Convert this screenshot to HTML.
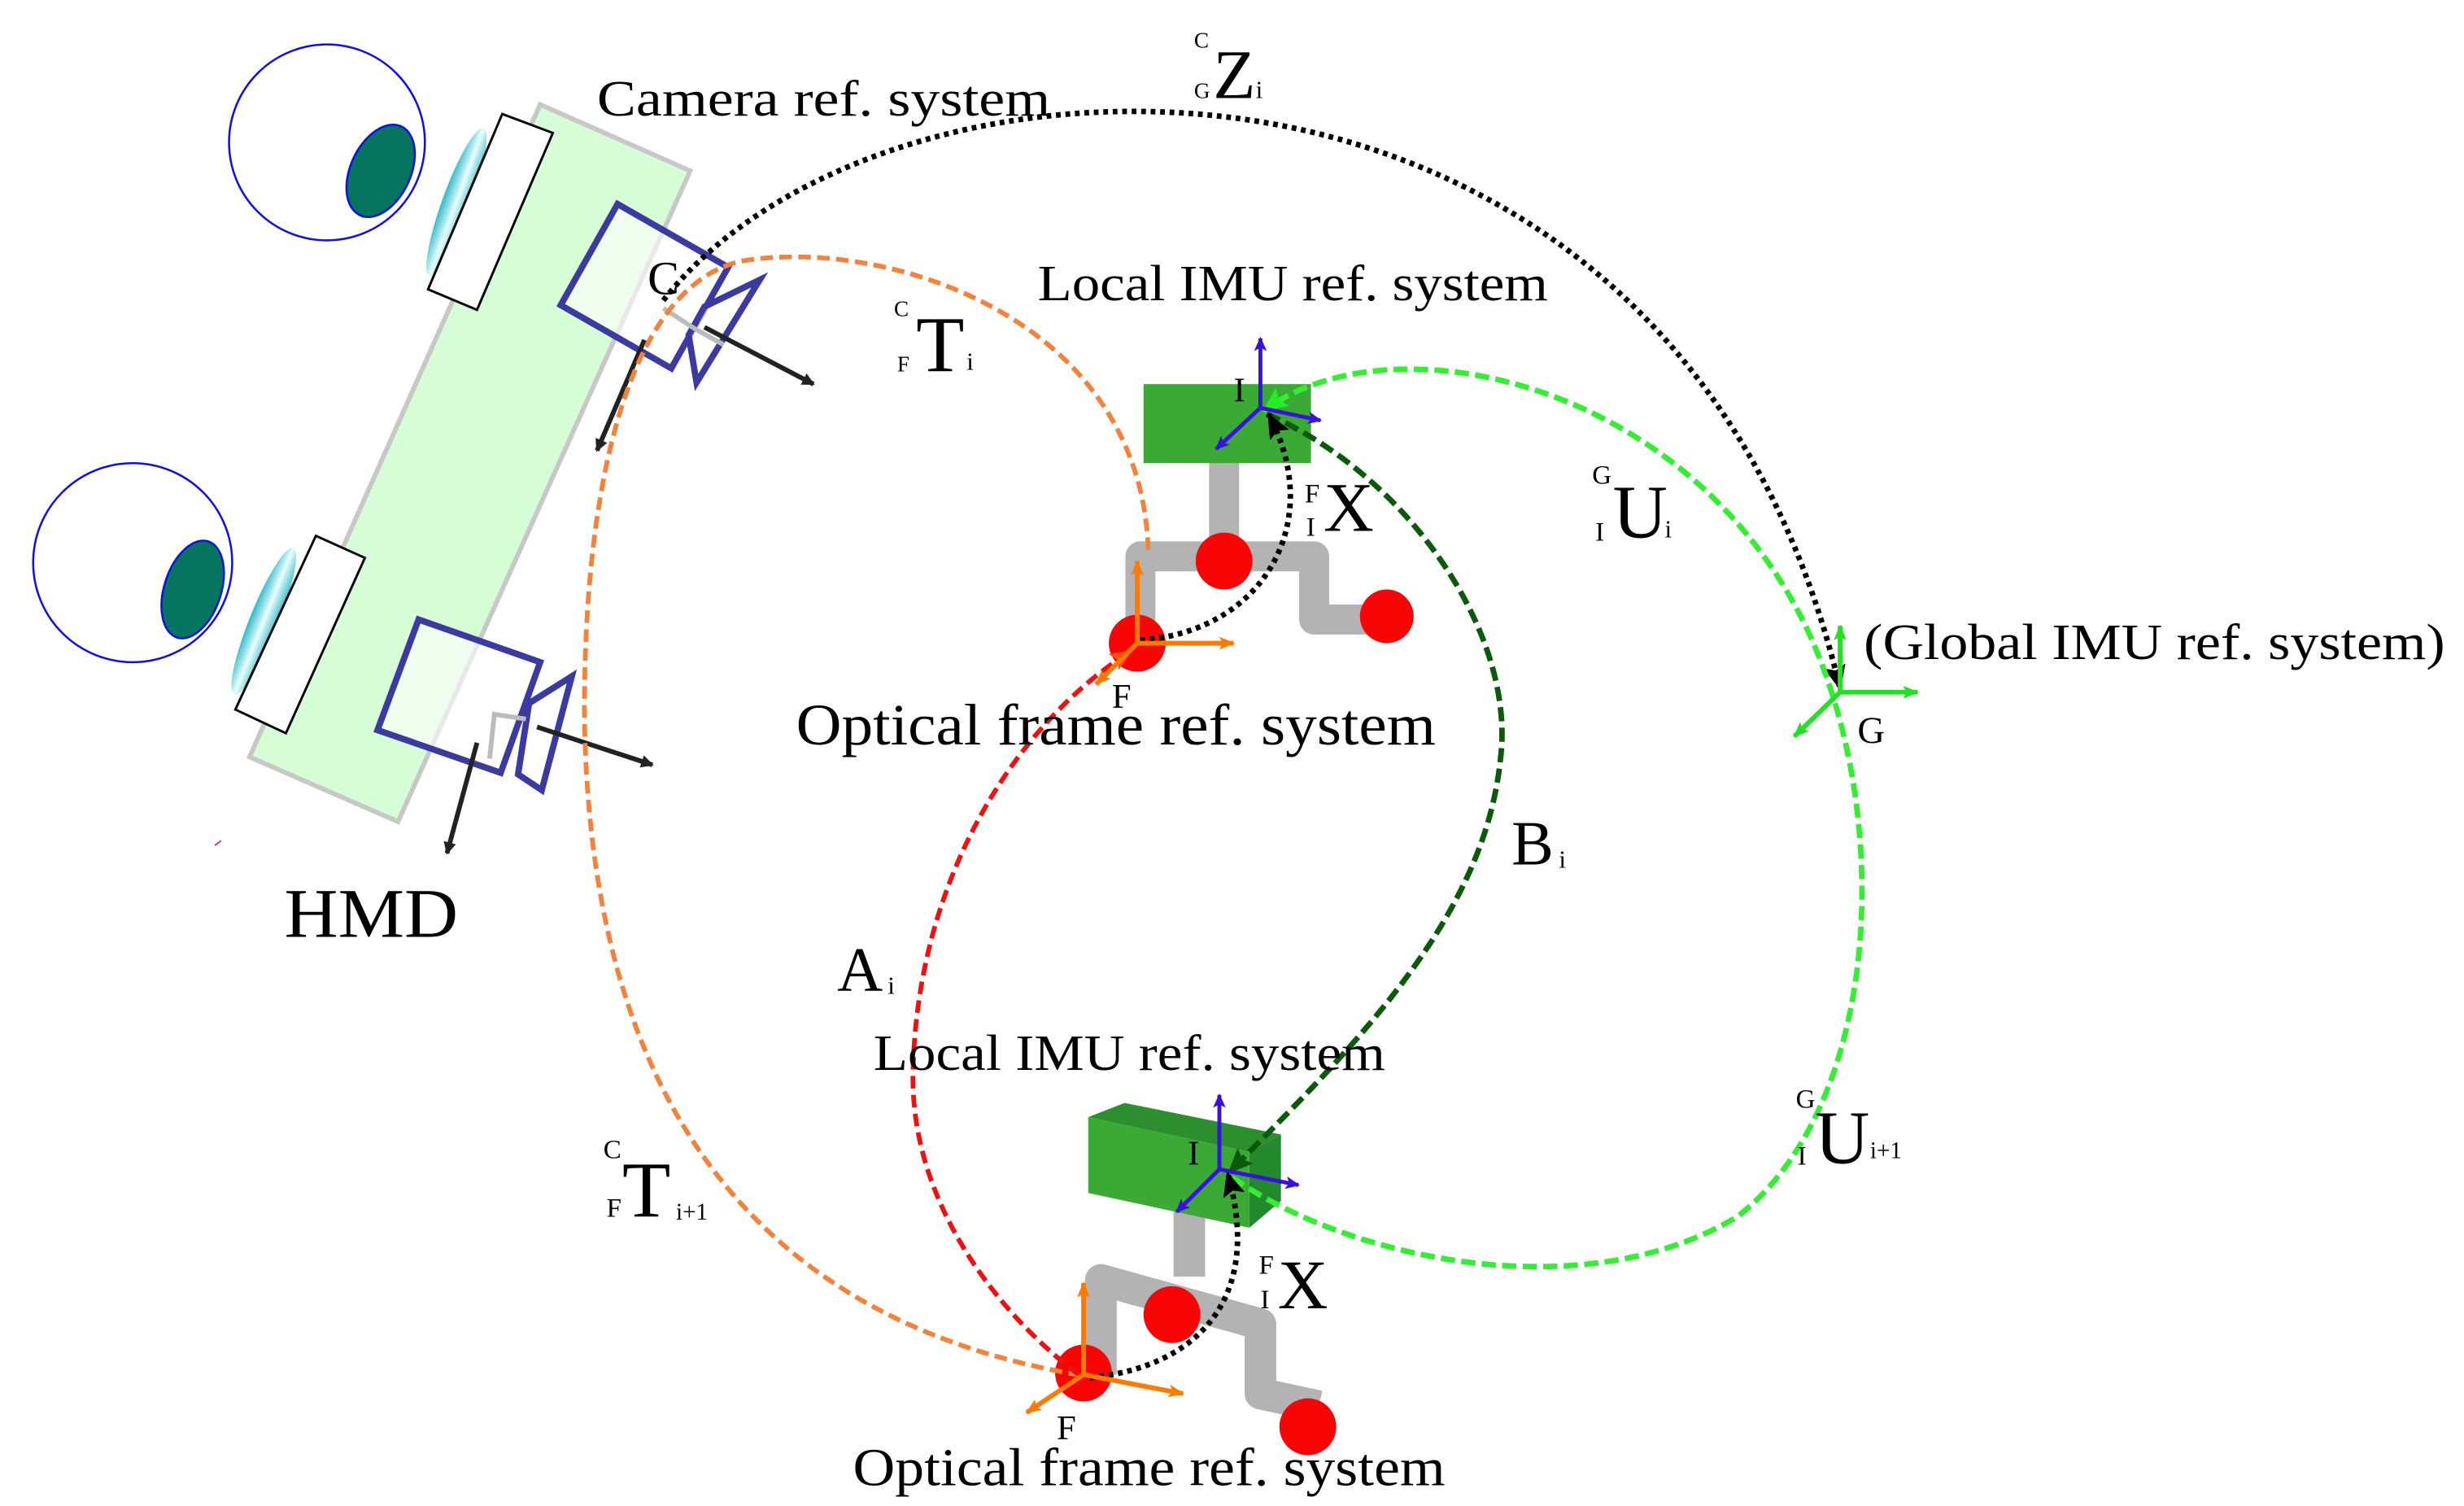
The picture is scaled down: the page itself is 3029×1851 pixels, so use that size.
<!DOCTYPE html>
<html><head><meta charset="utf-8"><style>
html,body{margin:0;padding:0;background:#fff;overflow:hidden}
svg{display:block}
text{font-family:"Liberation Serif",serif;fill:#000}
</style></head><body>
<svg width="3029" height="1851" viewBox="0 0 1560 953" xmlns="http://www.w3.org/2000/svg">
<defs>
<marker id="ak" markerWidth="8" markerHeight="8" refX="7" refY="4" orient="auto" markerUnits="userSpaceOnUse"><path d="M0,0 L8,4 L0,8 Z" fill="#222"/></marker>
<marker id="ab" markerWidth="9" markerHeight="8" refX="8" refY="4" orient="auto" markerUnits="userSpaceOnUse"><path d="M0,0 L9,4 L0,8 L2,4Z" fill="#3a10e0"/></marker>
<marker id="ao" markerWidth="10" markerHeight="8" refX="9" refY="4" orient="auto" markerUnits="userSpaceOnUse"><path d="M0,0 L10,4 L0,8 L2,4Z" fill="#ff7a00"/></marker>
<marker id="ag" markerWidth="10" markerHeight="8" refX="9" refY="4" orient="auto" markerUnits="userSpaceOnUse"><path d="M0,0 L10,4 L0,8 L2,4Z" fill="#22e022"/></marker>
<marker id="bk" markerWidth="16" markerHeight="14" refX="15" refY="7" orient="auto" markerUnits="userSpaceOnUse"><path d="M0,0 L16,7 L0,14 L3,7Z" fill="#000"/></marker>
<marker id="bdg" markerWidth="16" markerHeight="14" refX="15" refY="7" orient="auto" markerUnits="userSpaceOnUse"><path d="M0,0 L16,7 L0,14 L3,7Z" fill="#0a5a0a"/></marker>
<marker id="blg" markerWidth="16" markerHeight="14" refX="15" refY="7" orient="auto" markerUnits="userSpaceOnUse"><path d="M0,0 L16,7 L0,14 L3,7Z" fill="#22ee22"/></marker>
<marker id="br" markerWidth="14" markerHeight="12" refX="13" refY="6" orient="auto" markerUnits="userSpaceOnUse"><path d="M0,0 L14,6 L0,12 L3,6Z" fill="#ff5010"/></marker>
<linearGradient id="lens" x1="0" x2="1"><stop offset="0" stop-color="#30b8c8"/><stop offset="0.5" stop-color="#e8ffff"/><stop offset="1" stop-color="#30b8c8"/></linearGradient>
</defs>

<polygon points="342,66 437,108 252,520 158,479" fill="#d6fdd6" stroke="#c8c8c8" stroke-width="3"/>

<ellipse cx="207" cy="90" rx="62" ry="62" fill="#fff" stroke="#1010e0" stroke-width="1.3"/>
<ellipse cx="241" cy="108" rx="19" ry="31" transform="rotate(25 241 108)" fill="#057560" stroke="#1010e0" stroke-width="1.3"/>
<ellipse cx="289" cy="128" rx="9" ry="50" transform="rotate(20 289 128)" fill="url(#lens)"/>
<polygon points="318,72 350,84 302,196 271,183" fill="#fff" stroke="#000" stroke-width="1.5"/>

<ellipse cx="84" cy="356" rx="63" ry="63" fill="#fff" stroke="#1010e0" stroke-width="1.3"/>
<ellipse cx="122" cy="373" rx="18" ry="32" transform="rotate(18 122 373)" fill="#057560" stroke="#1010e0" stroke-width="1.3"/>
<ellipse cx="167" cy="393" rx="9" ry="50" transform="rotate(22 167 393)" fill="url(#lens)"/>
<polygon points="200,339 231,353 181,464 149,449" fill="#fff" stroke="#000" stroke-width="1.5"/>

<polygon points="391,129 461,169 425,233 355,193" fill="rgba(255,255,255,0.6)" stroke="#3a3aa0" stroke-width="4"/>
<polygon points="446,194 481,177 441,242 436,212" fill="rgba(255,255,255,0.6)" stroke="#3a3aa0" stroke-width="4"/>
<polyline points="420,195 440,208 458,218" fill="none" stroke="#bbb" stroke-width="3"/>
<line x1="446" y1="207" x2="515" y2="243" stroke="#222" stroke-width="3" marker-end="url(#ak)"/>
<line x1="408" y1="215" x2="378" y2="285" stroke="#222" stroke-width="3" marker-end="url(#ak)"/>

<polygon points="265,392 342,419 317,489 239,462" fill="rgba(255,255,255,0.6)" stroke="#3a3aa0" stroke-width="4"/>
<polygon points="335,445 362,428 343,500 328,490" fill="rgba(255,255,255,0.6)" stroke="#3a3aa0" stroke-width="4"/>
<polyline points="310,480 313,452 333,455" fill="none" stroke="#bbb" stroke-width="3"/>
<line x1="340" y1="460" x2="413" y2="484" stroke="#222" stroke-width="3" marker-end="url(#ak)"/>
<line x1="302" y1="470" x2="283" y2="540" stroke="#222" stroke-width="3" marker-end="url(#ak)"/>
<line x1="140" y1="532" x2="136" y2="535" stroke="#e0307a" stroke-width="1"/>

<path d="M775,292 V352 M722,402 V352 H832 V392 H870" fill="none" stroke="#b3b3b3" stroke-width="19" stroke-linejoin="round"/>
<rect x="724" y="243" width="106" height="50" fill="#3aaa35"/>
<circle cx="775" cy="355" r="18" fill="#fa0505"/>
<circle cx="878" cy="390" r="17" fill="#fa0505"/>
<circle cx="720" cy="407" r="18" fill="#fa0505"/>

<path d="M753,750 V808 M697,870 V810 L798,838 V882 L835,890" fill="none" stroke="#b3b3b3" stroke-width="20" stroke-linejoin="round"/>
<polygon points="689,707 712,698 811,718 791,729" fill="#2c8e2c"/>
<polygon points="791,729 811,718 811,760 791,777" fill="#24882c"/>
<polygon points="689,707 791,729 791,777 689,755" fill="#3aaa35"/>
<circle cx="742" cy="832" r="18" fill="#fa0505"/>
<circle cx="828" cy="903" r="18" fill="#fa0505"/>
<circle cx="686" cy="869" r="18" fill="#fa0505"/>

<path d="M420,190 C560,10 1060,-10 1165,436" fill="none" stroke="#000" stroke-width="3.5" stroke-dasharray="3,3" marker-end="url(#bk)"/>
<path d="M727,348 C722,200 560,150 470,165 C400,180 370,300 370,450 C372,660 450,830 682,870" fill="none" stroke="#f5823a" stroke-width="3" stroke-dasharray="8,4"/>
<path d="M683,870 C630,830 577,760 578,680 C580,560 640,460 716,412" fill="none" stroke="#f01010" stroke-width="3" stroke-dasharray="8,4" marker-end="url(#br)"/>
<path d="M802,262 C890,300 960,400 950,480 C940,580 860,660 778,742" fill="none" stroke="#0a5a0a" stroke-width="3.5" stroke-dasharray="9,4" marker-end="url(#bdg)"/>
<path d="M780,745 C850,795 1000,830 1100,770 C1190,700 1200,520 1145,400 C1070,240 880,200 800,260" fill="none" stroke="#33ee33" stroke-width="3.5" stroke-dasharray="9,4" marker-end="url(#blg)"/>
<path d="M722,405 C800,400 840,330 803,262" fill="none" stroke="#000" stroke-width="3.5" stroke-dasharray="3,3" marker-end="url(#bk)"/>
<path d="M690,872 C760,865 800,820 777,742" fill="none" stroke="#000" stroke-width="3.5" stroke-dasharray="3,3" marker-end="url(#bk)"/>

<g stroke="#3a10e0" stroke-width="2.5">
<line x1="798" y1="258" x2="798" y2="214" marker-end="url(#ab)"/>
<line x1="798" y1="258" x2="836" y2="266" marker-end="url(#ab)"/>
<line x1="798" y1="258" x2="770" y2="284" marker-end="url(#ab)"/>
<line x1="772" y1="740" x2="772" y2="693" marker-end="url(#ab)"/>
<line x1="772" y1="740" x2="822" y2="750" marker-end="url(#ab)"/>
<line x1="772" y1="740" x2="745" y2="767" marker-end="url(#ab)"/>
</g>
<g stroke="#ff7a00" stroke-width="3">
<line x1="720" y1="407" x2="720" y2="355" marker-end="url(#ao)"/>
<line x1="720" y1="407" x2="781" y2="407" marker-end="url(#ao)"/>
<line x1="720" y1="407" x2="694" y2="433" marker-end="url(#ao)"/>
<line x1="686" y1="870" x2="686" y2="812" marker-end="url(#ao)"/>
<line x1="686" y1="870" x2="749" y2="882" marker-end="url(#ao)"/>
<line x1="686" y1="870" x2="650" y2="894" marker-end="url(#ao)"/>
</g>
<g stroke="#22e022" stroke-width="3">
<line x1="1165" y1="438" x2="1165" y2="396" marker-end="url(#ag)"/>
<line x1="1165" y1="438" x2="1214" y2="438" marker-end="url(#ag)"/>
<line x1="1165" y1="438" x2="1136" y2="466" marker-end="url(#ag)"/>
</g>

<text x="378" y="73" font-size="32" textLength="287" lengthAdjust="spacingAndGlyphs">Camera ref. system</text>
<text x="410" y="186" font-size="30">C</text>
<text x="180" y="593" font-size="44" textLength="110" lengthAdjust="spacingAndGlyphs">HMD</text>
<text x="657" y="190" font-size="32" textLength="323" lengthAdjust="spacingAndGlyphs">Local IMU ref. system</text>
<text x="504" y="471" font-size="37" textLength="405" lengthAdjust="spacingAndGlyphs">Optical frame ref. system</text>
<text x="553" y="677" font-size="32" textLength="324" lengthAdjust="spacingAndGlyphs">Local IMU ref. system</text>
<text x="540" y="940" font-size="34" textLength="375" lengthAdjust="spacingAndGlyphs">Optical frame ref. system</text>
<text x="1180" y="417" font-size="32" textLength="368" lengthAdjust="spacingAndGlyphs">(Global IMU ref. system)</text>
<text x="781" y="254" font-size="22">I</text>
<text x="752" y="737" font-size="22">I</text>
<text x="704" y="448" font-size="22">F</text>
<text x="669" y="911" font-size="22">F</text>
<text x="1176" y="470" font-size="24">G</text>

<text x="756" y="30" font-size="14">C</text><text x="756" y="62" font-size="14">G</text>
<text x="768" y="62" font-size="44">Z</text><text x="795" y="62" font-size="16">i</text>

<text x="566" y="200" font-size="14">C</text><text x="568" y="235" font-size="14">F</text>
<text x="580" y="235" font-size="50">T</text><text x="612" y="234" font-size="16">i</text>

<text x="826" y="318" font-size="17">F</text><text x="827" y="339" font-size="17">I</text>
<text x="838" y="336" font-size="44">X</text>

<text x="797" y="806" font-size="17">F</text><text x="798" y="828" font-size="17">I</text>
<text x="809" y="828" font-size="44">X</text>

<text x="1008" y="306" font-size="17">G</text><text x="1010" y="342" font-size="17">I</text>
<text x="1021" y="340" font-size="48">U</text><text x="1054" y="340" font-size="16">i</text>

<text x="1137" y="701" font-size="17">G</text><text x="1138" y="737" font-size="17">I</text>
<text x="1149" y="736" font-size="48">U</text><text x="1184" y="733" font-size="15">i+1</text>

<text x="382" y="733" font-size="17">C</text><text x="384" y="770" font-size="17">F</text>
<text x="394" y="770" font-size="50">T</text><text x="428" y="772" font-size="15">i+1</text>

<text x="957" y="547" font-size="40">B</text><text x="987" y="549" font-size="16">i</text>
<text x="530" y="627" font-size="40">A</text><text x="562" y="629" font-size="16">i</text>
</svg>
</body></html>
